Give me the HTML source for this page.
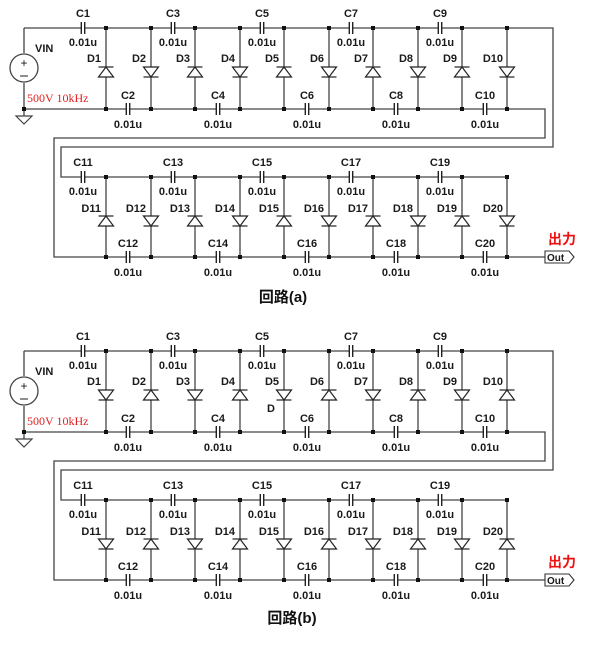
<!DOCTYPE html>
<html><head><meta charset="utf-8"><style>
html,body{margin:0;padding:0;background:#fff}
svg{display:block}
.l{font-family:"Liberation Sans",sans-serif;font-weight:bold;font-size:11px;fill:#1a1a1a}
.r{font-family:"Liberation Sans",sans-serif;font-weight:bold;font-size:11px;fill:#1a1a1a;text-anchor:end}
.c{text-anchor:middle}
.red{font-family:"Liberation Serif",serif;font-size:12px;fill:#e02020}
.out{font-family:"Liberation Sans","Noto Sans CJK JP",sans-serif;font-weight:bold;font-size:14px;fill:#f01010}
.cap{font-family:"Liberation Sans","Noto Sans CJK JP",sans-serif;font-weight:bold;font-size:15px;fill:#111;text-anchor:middle}
</style></head><body>
<svg width="600" height="649" viewBox="0 0 600 649" xmlns="http://www.w3.org/2000/svg" xmlns:xlink="http://www.w3.org/1999/xlink">
<defs>
<g id="du"><polygon points="-7.5,5 7.5,5 0,-5" fill="#fff" stroke="#222" stroke-width="1.2"/><line x1="-7.5" y1="-5" x2="7.5" y2="-5" stroke="#222" stroke-width="1.2"/></g>
<g id="cp"><rect x="-1.5" y="-2" width="3" height="4" fill="#fff"/><line x1="-1.7" y1="-6" x2="-1.7" y2="6" stroke="#222" stroke-width="1.4"/><line x1="1.7" y1="-6" x2="1.7" y2="6" stroke="#222" stroke-width="1.4"/></g>
<rect id="dt" x="-2" y="-2" width="4" height="4" fill="#111"/>
<g id="circ">
<g fill="none" stroke="#444" stroke-width="1.3">
<path d="M24,28 H553 V147 H61 V177 H507"/>
<path d="M24,109 H545 V138 H54 V257 H545"/>
<path d="M24,28 V53 M24,83 V109 M24,109 V116"/>
<path d="M106,28V109M151,28V109M195,28V109M240,28V109M284,28V109M329,28V109M373,28V109M418,28V109M462,28V109M507,28V109"/>
<path d="M106,177V257M151,177V257M195,177V257M240,177V257M284,177V257M329,177V257M373,177V257M418,177V257M462,177V257M507,177V257"/>
</g>
<circle cx="24" cy="68" r="14" fill="#fff" stroke="#444" stroke-width="1.3"/>
<text x="24" y="67" class="l c" style="font-weight:normal;font-size:12px">+</text>
<line x1="20" y1="76" x2="28" y2="76" stroke="#444" stroke-width="1.2"/>
<polygon points="16,116 32,116 24,124" fill="#fff" stroke="#444" stroke-width="1.2"/>
<text x="35" y="52" class="l">VIN</text>
<text x="27" y="102" class="red">500V 10kHz</text>
<use href="#dt" x="24" y="109"/>
<use href="#dt" x="106" y="28"/><use href="#dt" x="151" y="28"/><use href="#dt" x="195" y="28"/><use href="#dt" x="240" y="28"/><use href="#dt" x="284" y="28"/><use href="#dt" x="329" y="28"/><use href="#dt" x="373" y="28"/><use href="#dt" x="418" y="28"/><use href="#dt" x="462" y="28"/><use href="#dt" x="507" y="28"/>
<use href="#dt" x="106" y="109"/><use href="#dt" x="151" y="109"/><use href="#dt" x="195" y="109"/><use href="#dt" x="240" y="109"/><use href="#dt" x="284" y="109"/><use href="#dt" x="329" y="109"/><use href="#dt" x="373" y="109"/><use href="#dt" x="418" y="109"/><use href="#dt" x="462" y="109"/><use href="#dt" x="507" y="109"/>
<use href="#dt" x="106" y="177"/><use href="#dt" x="151" y="177"/><use href="#dt" x="195" y="177"/><use href="#dt" x="240" y="177"/><use href="#dt" x="284" y="177"/><use href="#dt" x="329" y="177"/><use href="#dt" x="373" y="177"/><use href="#dt" x="418" y="177"/><use href="#dt" x="462" y="177"/><use href="#dt" x="507" y="177"/>
<use href="#dt" x="106" y="257"/><use href="#dt" x="151" y="257"/><use href="#dt" x="195" y="257"/><use href="#dt" x="240" y="257"/><use href="#dt" x="284" y="257"/><use href="#dt" x="329" y="257"/><use href="#dt" x="373" y="257"/><use href="#dt" x="418" y="257"/><use href="#dt" x="462" y="257"/><use href="#dt" x="507" y="257"/>
<use href="#cp" x="83" y="28"/><use href="#cp" x="173" y="28"/><use href="#cp" x="262" y="28"/><use href="#cp" x="351" y="28"/><use href="#cp" x="440" y="28"/>
<use href="#cp" x="128" y="109"/><use href="#cp" x="218" y="109"/><use href="#cp" x="307" y="109"/><use href="#cp" x="396" y="109"/><use href="#cp" x="485" y="109"/>
<use href="#cp" x="83" y="177"/><use href="#cp" x="173" y="177"/><use href="#cp" x="262" y="177"/><use href="#cp" x="351" y="177"/><use href="#cp" x="440" y="177"/>
<use href="#cp" x="128" y="257"/><use href="#cp" x="218" y="257"/><use href="#cp" x="307" y="257"/><use href="#cp" x="396" y="257"/><use href="#cp" x="485" y="257"/>
<text x="83" y="17" class="l c">C1</text><text x="83" y="46" class="l c">0.01u</text>
<text x="173" y="17" class="l c">C3</text><text x="173" y="46" class="l c">0.01u</text>
<text x="262" y="17" class="l c">C5</text><text x="262" y="46" class="l c">0.01u</text>
<text x="351" y="17" class="l c">C7</text><text x="351" y="46" class="l c">0.01u</text>
<text x="440" y="17" class="l c">C9</text><text x="440" y="46" class="l c">0.01u</text>
<text x="128" y="99" class="l c">C2</text><text x="128" y="128" class="l c">0.01u</text>
<text x="218" y="99" class="l c">C4</text><text x="218" y="128" class="l c">0.01u</text>
<text x="307" y="99" class="l c">C6</text><text x="307" y="128" class="l c">0.01u</text>
<text x="396" y="99" class="l c">C8</text><text x="396" y="128" class="l c">0.01u</text>
<text x="485" y="99" class="l c">C10</text><text x="485" y="128" class="l c">0.01u</text>
<text x="83" y="166" class="l c">C11</text><text x="83" y="195" class="l c">0.01u</text>
<text x="173" y="166" class="l c">C13</text><text x="173" y="195" class="l c">0.01u</text>
<text x="262" y="166" class="l c">C15</text><text x="262" y="195" class="l c">0.01u</text>
<text x="351" y="166" class="l c">C17</text><text x="351" y="195" class="l c">0.01u</text>
<text x="440" y="166" class="l c">C19</text><text x="440" y="195" class="l c">0.01u</text>
<text x="128" y="247" class="l c">C12</text><text x="128" y="276" class="l c">0.01u</text>
<text x="218" y="247" class="l c">C14</text><text x="218" y="276" class="l c">0.01u</text>
<text x="307" y="247" class="l c">C16</text><text x="307" y="276" class="l c">0.01u</text>
<text x="396" y="247" class="l c">C18</text><text x="396" y="276" class="l c">0.01u</text>
<text x="485" y="247" class="l c">C20</text><text x="485" y="276" class="l c">0.01u</text>
<text x="101" y="62" class="r">D1</text><text x="146" y="62" class="r">D2</text><text x="190" y="62" class="r">D3</text><text x="235" y="62" class="r">D4</text><text x="279" y="62" class="r">D5</text><text x="324" y="62" class="r">D6</text><text x="368" y="62" class="r">D7</text><text x="413" y="62" class="r">D8</text><text x="457" y="62" class="r">D9</text><text x="503" y="62" class="r">D10</text>
<text x="101" y="212" class="r">D11</text><text x="146" y="212" class="r">D12</text><text x="190" y="212" class="r">D13</text><text x="235" y="212" class="r">D14</text><text x="279" y="212" class="r">D15</text><text x="324" y="212" class="r">D16</text><text x="368" y="212" class="r">D17</text><text x="413" y="212" class="r">D18</text><text x="457" y="212" class="r">D19</text><text x="503" y="212" class="r">D20</text>
<polygon points="545,251 569,251 574,257 569,263 545,263" fill="#fff" stroke="#333" stroke-width="1.1"/>
<text x="547" y="261" class="l" style="font-size:10px">Out</text>
<text x="548" y="244" class="out">出力</text>
</g>
</defs>
<!-- circuit (a) -->
<use href="#circ"/>
<use href="#du" transform="translate(106,72)"/><use href="#du" transform="translate(151,72) rotate(180)"/><use href="#du" transform="translate(195,72)"/><use href="#du" transform="translate(240,72) rotate(180)"/><use href="#du" transform="translate(284,72)"/><use href="#du" transform="translate(329,72) rotate(180)"/><use href="#du" transform="translate(373,72)"/><use href="#du" transform="translate(418,72) rotate(180)"/><use href="#du" transform="translate(462,72)"/><use href="#du" transform="translate(507,72) rotate(180)"/>
<use href="#du" transform="translate(106,221)"/><use href="#du" transform="translate(151,221) rotate(180)"/><use href="#du" transform="translate(195,221)"/><use href="#du" transform="translate(240,221) rotate(180)"/><use href="#du" transform="translate(284,221)"/><use href="#du" transform="translate(329,221) rotate(180)"/><use href="#du" transform="translate(373,221)"/><use href="#du" transform="translate(418,221) rotate(180)"/><use href="#du" transform="translate(462,221)"/><use href="#du" transform="translate(507,221) rotate(180)"/>
<text x="283" y="302" class="cap">回路(a)</text>
<!-- circuit (b) -->
<g transform="translate(0,323)">
<use href="#circ"/>
<use href="#du" transform="translate(106,72) rotate(180)"/><use href="#du" transform="translate(151,72)"/><use href="#du" transform="translate(195,72) rotate(180)"/><use href="#du" transform="translate(240,72)"/><use href="#du" transform="translate(284,72) rotate(180)"/><use href="#du" transform="translate(329,72)"/><use href="#du" transform="translate(373,72) rotate(180)"/><use href="#du" transform="translate(418,72)"/><use href="#du" transform="translate(462,72) rotate(180)"/><use href="#du" transform="translate(507,72)"/>
<use href="#du" transform="translate(106,221) rotate(180)"/><use href="#du" transform="translate(151,221)"/><use href="#du" transform="translate(195,221) rotate(180)"/><use href="#du" transform="translate(240,221)"/><use href="#du" transform="translate(284,221) rotate(180)"/><use href="#du" transform="translate(329,221)"/><use href="#du" transform="translate(373,221) rotate(180)"/><use href="#du" transform="translate(418,221)"/><use href="#du" transform="translate(462,221) rotate(180)"/><use href="#du" transform="translate(507,221)"/>
<text x="271" y="89" class="l c">D</text>
<text x="292" y="300" class="cap">回路(b)</text>
</g>
</svg>
</body></html>
